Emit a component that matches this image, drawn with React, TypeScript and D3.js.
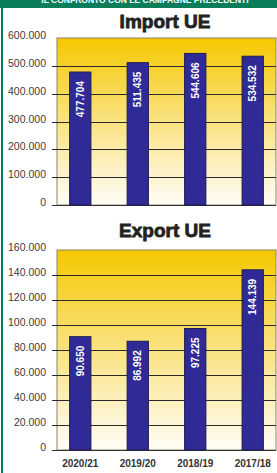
import { useEffect, useRef } from 'react';
import * as d3 from 'd3';

const seasons = ['2020/21', '2019/20', '2018/19', '2017/18'];
const importValues = [477704, 511435, 544606, 534532];
const exportValues = [90650, 86992, 97225, 144139];
const importTicks = [0, 100000, 200000, 300000, 400000, 500000, 600000];
const exportTicks = [0, 20000, 40000, 60000, 80000, 100000, 120000, 140000, 160000];

const W = 277;
const H = 473;
const green = '#0a7d5b';
const barFill = '#2f2a96';
const font = '"Liberation Sans", Arial, sans-serif';

const itFormat = d3.formatLocale({
  decimal: ',',
  thousands: '.',
  grouping: [3],
  currency: ['', ' €'],
}).format(',');

const App = () => {
  const svgRef = useRef<SVGSVGElement>(null);

  useEffect(() => {
    const svg = d3.select(svgRef.current);
    svg.selectAll('*').remove();

    // Background gradient for plot areas
    const defs = svg.append('defs');
    const grad = defs
      .append('linearGradient')
      .attr('id', 'plotGrad')
      .attr('x1', 0)
      .attr('y1', 0)
      .attr('x2', 0)
      .attr('y2', 1);
    grad.append('stop').attr('offset', '0%').attr('stop-color', '#f5c800');
    grad.append('stop').attr('offset', '45%').attr('stop-color', '#f9e075');
    grad.append('stop').attr('offset', '100%').attr('stop-color', '#fffdf8');

    // Frame
    svg.append('rect').attr('width', W).attr('height', H).attr('fill', '#fff');
    svg.append('rect').attr('x', 0).attr('y', 0).attr('width', W).attr('height', 8).attr('fill', green);
    svg.append('rect').attr('x', 1).attr('y', 0).attr('width', 2).attr('height', H).attr('fill', green);
    // header text, cut off by the top edge like in the source
    svg
      .append('text')
      .attr('x', 145)
      .attr('y', 3)
      .attr('text-anchor', 'middle')
      .style('font-family', font)
      .style('font-size', '8.5px')
      .style('font-weight', 'bold')
      .attr('fill', '#fff')
      .text('IL CONFRONTO CON LE CAMPAGNE PRECEDENTI');

    const x = d3
      .scaleBand()
      .domain(seasons)
      .range([57, 276])
      .paddingInner(0.63)
      .paddingOuter(0.22);

    const drawPanel = (
      title: string,
      titleY: number,
      values: number[],
      ticks: number[],
      top: number,
      bottom: number
    ) => {
      const g = svg.append('g');
      const y = d3
        .scaleLinear()
        .domain([0, d3.max(ticks) as number])
        .range([bottom, top]);

      // Title
      g.append('text')
        .attr('x', 165)
        .attr('y', titleY)
        .attr('text-anchor', 'middle')
        .style('font-family', font)
        .style('font-size', '19px')
        .style('font-weight', 'bold')
        .attr('fill', '#222')
        .attr('stroke', '#222')
        .attr('stroke-width', 0.8)
        .text(title);

      // Plot area
      g.append('rect')
        .attr('x', 57)
        .attr('y', top)
        .attr('width', 276 - 57)
        .attr('height', bottom - top)
        .attr('fill', 'url(#plotGrad)')
        .attr('stroke', '#8c8466')
        .attr('stroke-width', 1);

      // Grid lines + ticks
      g.selectAll('line.grid')
        .data(ticks.filter((t) => t > 0 && t < (d3.max(ticks) as number)))
        .enter()
        .append('line')
        .attr('x1', 52)
        .attr('x2', 276)
        .attr('y1', (d) => Math.round(y(d)) + 0.5)
        .attr('y2', (d) => Math.round(y(d)) + 0.5)
        .attr('stroke', '#2a2a2a')
        .attr('stroke-width', 1);

      // Baseline
      g.append('line')
        .attr('x1', 52)
        .attr('x2', 276)
        .attr('y1', bottom + 0.5)
        .attr('y2', bottom + 0.5)
        .attr('stroke', '#333')
        .attr('stroke-width', 1.2);

      // Tick labels
      g.selectAll('text.tick')
        .data(ticks)
        .enter()
        .append('text')
        .attr('x', 46)
        .attr('y', (d) => y(d) + 1)
        .attr('text-anchor', 'end')
        .style('font-family', font)
        .style('font-size', '10.5px')
        .attr('fill', '#3a3a3a')
        .text((d) => itFormat(d));

      // Bars
      g.selectAll('rect.bar')
        .data(values)
        .enter()
        .append('rect')
        .attr('x', (_d, i) => x(seasons[i]) as number)
        .attr('y', (d) => y(d))
        .attr('width', x.bandwidth())
        .attr('height', (d) => bottom - y(d))
        .attr('fill', barFill)
        .attr('stroke', '#1d1b4f')
        .attr('stroke-width', 1);

      // Value labels
      g.selectAll('text.val')
        .data(values)
        .enter()
        .append('text')
        .attr('transform', (d, i) => {
          const cx = (x(seasons[i]) as number) + x.bandwidth() / 2 + 3.5;
          return `translate(${cx},${y(d) + 9}) rotate(-90)`;
        })
        .attr('text-anchor', 'end')
        .style('font-family', font)
        .style('font-size', '10px')
        .style('font-weight', 'bold')
        .attr('fill', '#fff')
        .text((d) => itFormat(d));
    };

    drawPanel('Import UE', 28, importValues, importTicks, 38, 205);
    drawPanel('Export UE', 237, exportValues, exportTicks, 250, 450);

    // Category labels
    svg
      .selectAll('text.cat')
      .data(seasons)
      .enter()
      .append('text')
      .attr('x', (d) => (x(d) as number) + x.bandwidth() / 2)
      .attr('y', 467)
      .attr('text-anchor', 'middle')
      .style('font-family', font)
      .style('font-size', '10px')
      .style('font-weight', 'bold')
      .attr('fill', '#333')
      .text((d) => d);
  }, []);

  return (
    <>
      <style>{`body { margin: 0; }`}</style>
      <svg ref={svgRef} width={W} height={H} style={{ display: 'block' }}></svg>
    </>
  );
};

export default App;
